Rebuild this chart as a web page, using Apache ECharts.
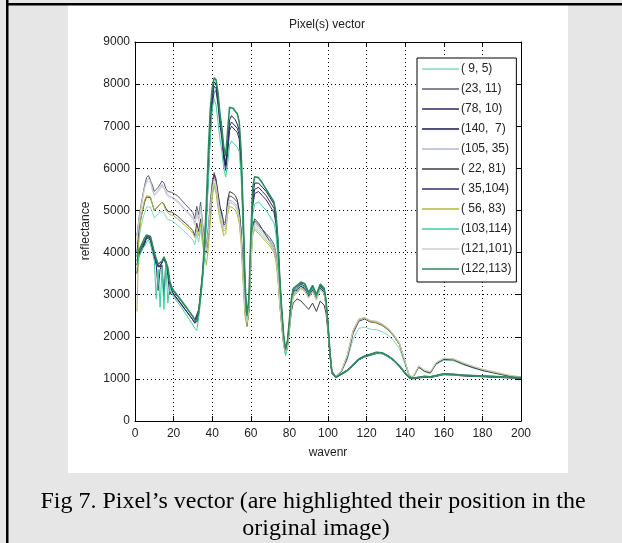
<!DOCTYPE html>
<html><head><meta charset="utf-8">
<script src="https://cdn.jsdelivr.net/npm/echarts@6/dist/echarts.min.js"></script>
<style>html,body{margin:0;padding:0;background:#e6e6e6}#c{width:622px;height:543px}</style>
</head><body><div id="c"></div>
<script>
// shared band positions (wavenr)
var wavenr = [
 1,2,3,4,5,6,7,8,9,10,11,12,13,14,15,16,17,18,19,20,
 22,24,26,28,
 30,31,32,33,34,35,36,37,38,39,40,41,42,43,44,45,46,47,48,49,50,51,52,53,54,55,56,57,58,59,60,61,62,
 64,66,68,70,72,
 73,74,75,76,77,78,79,80,81,82,
 84,86,88,90,92,94,96,98,
 99,100,101,102,104,
 107,110,113,116,119,122,125,128,131,134,137,140,
 142,144,147,150,153,156,
 160,165,170,175,180,185,190,195,200];

var xTicks = [0,20,40,60,80,100,120,140,160,180,200];
var yTicks = [0,1000,2000,3000,4000,5000,6000,7000,8000,9000];

var names = ['( 9, 5)','(23, 11)','(78, 10)','(140,  7)','(105, 35)','( 22, 81)','( 35,104)','( 56, 83)','(103,114)','(121,101)','(122,113)'];

var p9_5 = [
 3700,4300,4600,4800,4950,5080,5120,5080,4950,4820,4870,4920,4980,5020,4950,4850,4780,4750,4760,4720,
 4650,4570,4480,4400,
 4300,4180,4450,4250,4550,4200,3900,3900,4300,4900,5400,5650,5500,5200,4900,4700,4500,4550,5000,5200,5200,5150,5100,5000,4800,4300,3400,2550,2300,2600,3700,4450,4600,
 4500,4400,4300,4200,4050,
 3850,3450,2750,2250,1800,1600,1750,2200,2700,2950,
 3050,3150,3100,2950,3100,2900,3150,3050,
 2750,2250,1650,1170,1040,
 1170,1450,1950,2200,2230,2180,2170,2120,2040,1910,1720,1330,
 1070,1030,1270,1170,1130,1340,
 1440,1430,1340,1260,1200,1150,1100,1060,1030];

var p23_11 = [
 4400,4800,5100,5350,5600,5780,5830,5800,5600,5450,5500,5550,5620,5700,5650,5520,5450,5420,5430,5400,
 5350,5250,5150,5050,
 4950,4800,5100,4900,5200,4700,4300,4200,4600,5200,5650,5900,5750,5400,5100,4950,4700,4750,5200,5350,5350,5300,5280,5200,5000,4500,3600,2700,2450,2750,3800,4600,4750,
 4650,4550,4450,4350,4200,
 4000,3600,2900,2400,1900,1650,1800,2250,2750,3000,
 3100,3200,3120,2950,3100,2900,3150,3050,
 2750,2250,1650,1180,1050,
 1200,1550,2150,2420,2450,2380,2360,2300,2200,2050,1850,1400,
 1100,1040,1300,1200,1150,1380,
 1480,1470,1370,1290,1220,1170,1120,1070,1040];

var p78_10 = [
 3700,3950,4050,4150,4250,4380,4420,4350,4150,3950,3820,3700,3650,3780,3880,3850,3620,3300,3150,3080,
 2960,2850,2720,2600,
 2480,2400,2360,2650,3050,3500,4100,4900,5900,6900,7600,7950,7900,7600,7150,6800,6300,6050,6500,7000,7100,7080,7000,6950,6800,6100,4800,3200,2350,2700,4100,5200,5500,
 5550,5450,5350,5200,5050,
 4800,4200,3300,2600,2000,1650,1850,2300,2800,3050,
 3150,3250,3200,2980,3150,2950,3200,3100,
 2800,2250,1600,1150,1030,
 1120,1200,1330,1470,1540,1580,1620,1610,1540,1440,1300,1130,
 1030,1010,1030,1050,1040,1070,
 1110,1100,1080,1070,1060,1050,1040,1030,1020];

var p140_7 = [
 3500,3900,4000,4100,4200,4350,4400,4300,4100,3900,3780,3650,3620,3750,3860,3830,3580,3250,3100,3020,
 2900,2780,2650,2530,
 2400,2330,2300,2600,3000,3450,4100,5000,6100,7100,7800,8050,8000,7700,7250,6900,6400,6100,6600,7150,7250,7200,7150,7050,6900,6200,4900,3200,2250,2650,4200,5350,5650,
 5650,5550,5450,5300,5150,
 4900,4300,3400,2650,2000,1620,1800,2250,2800,3100,
 3200,3280,3250,3000,3200,2980,3220,3150,
 2850,2300,1620,1160,1030,
 1110,1190,1310,1450,1520,1560,1600,1600,1530,1430,1290,1120,
 1020,1000,1020,1040,1030,1060,
 1100,1090,1070,1060,1050,1040,1030,1020,1010];

var p105_35 = [
 4200,4700,5000,5300,5550,5700,5760,5700,5500,5380,5420,5480,5550,5620,5580,5450,5380,5330,5340,5300,
 5230,5130,5030,4930,
 4830,4700,4950,4800,5100,4600,4200,4100,4500,5100,5550,5800,5650,5300,5000,4850,4600,4650,5100,5250,5250,5200,5180,5100,4900,4400,3500,2650,2400,2700,3750,4550,4700,
 4600,4500,4400,4300,4150,
 3950,3550,2850,2350,1880,1640,1790,2230,2730,2980,
 3080,3180,3100,2930,3080,2880,3130,3030,
 2730,2230,1640,1170,1040,
 1190,1530,2120,2400,2440,2370,2350,2290,2190,2040,1840,1390,
 1090,1030,1290,1190,1140,1370,
 1470,1460,1360,1280,1210,1160,1110,1060,1030];

var p22_81 = [
 4000,4500,4800,5000,5200,5320,5350,5300,5150,5000,5050,5100,5150,5200,5150,5050,4980,4950,4960,4930,
 4870,4780,4700,4620,
 4520,4400,4700,4500,4800,4400,4050,4000,4400,5000,5600,5850,5700,5400,5100,4900,4650,4700,5250,5450,5450,5400,5350,5250,5000,4500,3500,2600,2300,2600,3800,4650,4800,
 4700,4550,4400,4250,4100,
 3900,3500,2800,2300,1850,1600,1750,2150,2600,2800,
 2900,2850,2750,2650,2800,2600,2850,2750,
 2550,2100,1550,1130,1030,
 1180,1500,2080,2370,2420,2350,2330,2270,2170,2020,1820,1380,
 1080,1030,1280,1180,1140,1360,
 1460,1450,1350,1270,1200,1150,1100,1060,1030];

var p35_104 = [
 3800,4000,4100,4200,4280,4350,4380,4300,4100,3900,3700,3100,3600,3700,2950,3800,3450,3000,3100,3000,
 2880,2760,2640,2520,
 2400,2320,2280,2550,2950,3400,4000,4800,5800,6800,7500,7800,7850,7500,7050,6700,6200,5950,6350,6900,7000,6980,6900,6850,6700,6000,4700,3100,2300,2650,4000,5100,5400,
 5450,5350,5250,5100,4950,
 4700,4100,3200,2550,1950,1680,1900,2350,2850,3100,
 3100,3200,3150,2950,3100,2900,3150,3050,
 2750,2200,1580,1140,1040,
 1130,1210,1340,1480,1550,1590,1630,1620,1550,1450,1310,1140,
 1040,1020,1040,1060,1050,1080,
 1120,1110,1090,1080,1070,1060,1050,1040,1030];

var p56_83 = [
 2600,4300,4800,5050,5250,5350,5380,5330,5150,5000,5050,5100,5150,5200,5120,5000,4950,4900,4920,4880,
 4800,4720,4640,4560,
 4460,4350,4550,4400,4700,4300,3950,3700,4100,4700,5300,5600,5400,5050,4800,4600,4400,4450,4900,5100,5100,5050,5000,4900,4700,4200,3300,2500,2250,2550,3600,4400,4550,
 4450,4350,4250,4150,4000,
 3800,3400,2750,2250,1800,1580,1720,2150,2650,2950,
 3050,3150,3080,2920,3070,2870,3120,3020,
 2720,2220,1630,1160,1040,
 1200,1560,2130,2400,2440,2360,2340,2280,2180,2030,1830,1390,
 1090,1040,1300,1200,1160,1380,
 1490,1470,1380,1300,1230,1170,1120,1070,1040];

var p103_114 = [
 3600,3900,4000,4100,4150,4250,4300,4200,4000,3800,2900,3600,2700,3650,2650,3750,2800,3200,3050,2950,
 2820,2700,2560,2420,
 2280,2200,2150,2450,2850,3300,3900,4700,5700,6700,7400,7650,7500,7100,6700,6400,6000,5800,6100,6550,6650,6600,6550,6500,6400,5800,4500,3000,2350,2700,3900,4900,5150,
 5200,5100,5000,4850,4700,
 4450,3900,3100,2450,1900,1550,1750,2300,2800,3050,
 3150,3230,3180,3000,3150,2950,3180,3080,
 2780,2200,1580,1140,1030,
 1120,1200,1320,1460,1530,1570,1610,1600,1530,1430,1300,1130,
 1030,1010,1030,1050,1040,1070,
 1100,1090,1080,1070,1060,1050,1040,1030,1020];

var p121_101 = [
 4300,4750,5050,5300,5520,5680,5720,5680,5480,5350,5400,5450,5500,5570,5520,5400,5330,5300,5300,5260,
 5200,5100,5000,4900,
 4800,4650,4900,4750,5050,4550,4150,4050,4450,5050,5500,5750,5600,5250,4950,4800,4550,4600,5050,5200,5200,5150,5120,5050,4850,4350,3450,2600,2350,2650,3700,4500,4650,
 4550,4450,4350,4250,4100,
 3900,3500,2800,2300,1850,1620,1770,2200,2700,2980,
 3080,3180,3100,2930,3080,2880,3130,3030,
 2730,2230,1640,1170,1040,
 1200,1560,2150,2420,2460,2390,2370,2310,2210,2060,1860,1410,
 1100,1040,1310,1210,1170,1390,
 1490,1480,1380,1300,1230,1180,1130,1080,1050];

var p122_113 = [
 3900,4050,4150,4250,4350,4420,4450,4380,4200,4000,3850,3720,3700,3800,3900,3870,3650,3320,3180,3100,
 2980,2860,2740,2610,
 2480,2400,2350,2600,3000,3500,4200,5200,6400,7400,7900,8150,8100,7800,7300,6950,6500,6300,6900,7450,7480,7420,7350,7300,7100,6400,5000,3300,2500,2900,4400,5550,5800,
 5780,5650,5500,5350,5200,
 4950,4350,3400,2650,2050,1700,1900,2400,2900,3150,
 3220,3300,3260,3050,3220,3000,3250,3150,
 2850,2300,1650,1170,1040,
 1110,1200,1330,1470,1540,1580,1630,1620,1550,1450,1310,1140,
 1040,1020,1040,1060,1050,1080,
 1120,1110,1090,1080,1070,1060,1050,1040,1030];

var seriesValues = [p9_5,p23_11,p78_10,p140_7,p105_35,p22_81,p35_104,p56_83,p103_114,p121_101,p122_113];
var colors = ['#7fd8c8','#5c5c70','#2a2a62','#1a1a4e','#b4b4d6','#3e3e46','#2c2c70','#b3b838','#3ccf9c','#cdcdcd','#2e8a5c'];
var widths = [1,1,1,1,1,1,1,1,1,1,1.6];

var FONT = "'Liberation Sans','Arial',sans-serif";
var SERIF = '"Liberation Serif", "Times New Roman", serif';
var warn = [];
var series = seriesValues.map(function(vals, i){
  if (vals.length !== wavenr.length) warn.push(names[i] + ':' + vals.length);
  return {
    name: names[i], type: 'line', xAxisIndex: 0, yAxisIndex: 0,
    showSymbol: false, symbol: 'none', silent: true, animation: false,
    lineStyle: {color: colors[i], width: widths[i]},
    itemStyle: {color: colors[i]},
    data: wavenr.map(function(x, k){ return [x, vals[k]]; })
  };
});

var axisCommon = {
  type: 'value',
  axisLine: {show: true, onZero: false, lineStyle: {color: '#000', width: 1}},
  axisTick: {show: true, inside: true, length: 5, lineStyle: {color: '#000'}},
  splitLine: {show: false}
};
function mk(extra){ return Object.assign({}, JSON.parse(JSON.stringify(axisCommon)), extra); }

var chart = echarts.init(document.getElementById('c'), null, {renderer: 'canvas'});
chart.setOption({
  backgroundColor: '#e6e6e6',
  animation: false,
  grid: {left: 135, top: 42, width: 386, height: 379},
  graphic: [
    {type: 'rect', z: -10, shape: {x: 68, y: 5, width: 500, height: 468}, style: {fill: '#fff'}},
    {type: 'rect', z: -9, shape: {x: 6, y: 0, width: 2.5, height: 543}, style: {fill: '#000'}},
    {type: 'rect', z: -9, shape: {x: 6, y: 3, width: 616, height: 2.5}, style: {fill: '#000'}},
    {type: 'text', z: 10, x: 327, y: 25, style: {text: 'Pixel(s) vector', font: '12px ' + FONT, fill: '#222', textAlign: 'center', textVerticalAlign: 'middle'}},
    {type: 'text', z: 10, x: 86, y: 231, rotation: Math.PI / 2, style: {text: 'reflectance', font: '12px ' + FONT, fill: '#222', textAlign: 'center', textVerticalAlign: 'middle'}},
    {type: 'text', z: 10, x: 313, y: 502, style: {text: 'Fig 7. Pixel\u2019s vector (are highlighted their position in the', font: '24px ' + SERIF, fill: '#000', textAlign: 'center', textVerticalAlign: 'middle'}},
    {type: 'text', z: 10, x: 316, y: 529, style: {text: 'original image)', font: '24px ' + SERIF, fill: '#000', textAlign: 'center', textVerticalAlign: 'middle'}},
    {type: 'text', z: 10, x: 10, y: 10, style: {text: warn.join(' '), font: '12px sans-serif', fill: 'red'}}
  ],
  legend: {
    orient: 'vertical', left: 417, top: 58,
    backgroundColor: '#fff', borderColor: '#000', borderWidth: 1,
    padding: [4, 4, 6, 5], itemWidth: 37, itemHeight: 1.5, itemGap: 6,
    icon: 'rect',
    textStyle: {fontFamily: FONT, fontSize: 12, color: '#222', lineHeight: 14, padding: [0, 0, 0, -3]},
    data: names
  },
  xAxis: [
    mk({min: 0, max: 200, interval: 20, position: 'bottom',
      name: 'wavenr', nameLocation: 'middle', nameGap: 26,
      nameTextStyle: {fontFamily: FONT, fontSize: 12, color: '#222'},
      axisLabel: {fontFamily: FONT, fontSize: 12, color: '#222', margin: 7},
      splitLine: {show: true, lineStyle: {color: '#000', type: [1, 3], width: 1}}}),
    mk({min: 0, max: 200, interval: 20, position: 'top', axisLabel: {show: false}})
  ],
  yAxis: [
    mk({min: 0, max: 9000, interval: 1000, position: 'left',
      axisLabel: {fontFamily: FONT, fontSize: 12, color: '#222', margin: 5,
        formatter: function(v){ return String(v); }},
      splitLine: {show: true, lineStyle: {color: '#000', type: [1, 3], width: 1}}}),
    mk({min: 0, max: 9000, interval: 1000, position: 'right', axisLabel: {show: false}})
  ],
  series: series
});
</script></body></html>
